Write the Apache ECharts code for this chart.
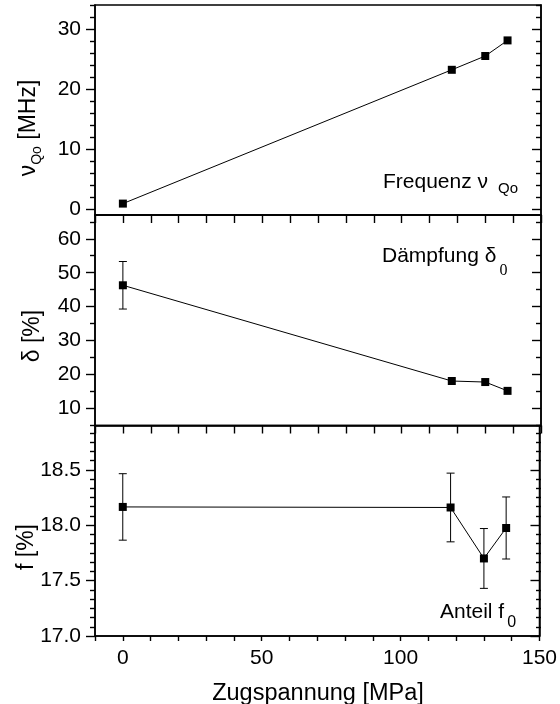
<!DOCTYPE html>
<html>
<head>
<meta charset="utf-8">
<script src="https://cdn.jsdelivr.net/npm/echarts@6/dist/echarts.min.js"></script>
<style>
  html, body { margin: 0; padding: 0; background: #fff; }
  #chart { width: 560px; height: 704px; }
</style>
</head>
<body>
<div id="chart"></div>
<script>
// Measured values versus tensile stress (MPa)
const stress = [0, 118, 130, 138];
const frequency = [0.9, 23.2, 25.5, 28.1];          // nu_Qo [MHz]
const damping = [46.3, 18.1, 17.8, 15.2];           // delta [%]
const dampingErr = [7.0, null, null, null];
const fraction = [18.165, 18.16, 17.70, 17.975];    // f [%]
const fractionErr = [0.30, 0.31, 0.27, 0.28];

// Axis tick labels
const xTickLabels = [0, 50, 100, 150];
const freqTicks = [0, 10, 20, 30];
const dampTicks = [10, 20, 30, 40, 50, 60];
const fracTicks = [17.0, 17.5, 18.0, 18.5];

const FONT = 'Liberation Sans, Arial, Helvetica, sans-serif';
const SERIF = 'Liberation Serif, Times New Roman, serif';
const BLACK = '#000';

// minor tick positions between the labelled ticks
function minorValues(start, end, step, majors) {
  const out = [];
  for (let k = 0; ; k++) {
    const v = +(start + k * step).toFixed(6);
    if (v > end + 1e-9) break;
    if (!majors.some(m => Math.abs(m - v) < 1e-6)) out.push(v);
  }
  return out;
}

const panels = [
  { top: 5,     height: 210,   min: -1, max: 34,   major: freqTicks, minor: minorValues(0, 34, 2, freqTicks), fmt: v => String(v) },
  { top: 215,   height: 210.5, min: 5,  max: 67,   major: dampTicks, minor: minorValues(5, 67, 5, dampTicks), fmt: v => String(v) },
  { top: 425.5, height: 210.5, min: 17, max: 18.9, major: fracTicks, minor: minorValues(17, 18.9, 1 / 12, fracTicks), fmt: v => v.toFixed(1) }
];

function tickLine() { return { color: BLACK, width: 1.4 }; }
function shownLine() { return { show: true, onZero: false, lineStyle: { color: BLACK, width: 1.5 } }; }
function hiddenLine() { return { show: false, onZero: false }; }
const grids = [], xAxes = [], yAxes = [];

// Each panel uses two grids over the same rectangle: the first carries the data,
// labels and long ticks, the second only the short ticks.
panels.forEach((p, i) => {
  grids.push({ left: 95, right: 19, top: p.top, height: p.height, show: true, borderColor: BLACK, borderWidth: 1.5 });
  grids.push({ left: 95, right: 19, top: p.top, height: p.height });

  const gMain = 2 * i, gMinor = 2 * i + 1;
  xAxes.push({
    type: 'value', gridIndex: gMain, min: -10, max: 150, interval: 10,
    axisLine: shownLine(),
    axisTick: { show: true, length: i < 2 ? 8 : 5, lineStyle: tickLine() },
    axisLabel: {
      show: i === 2, margin: 12, fontSize: 21, fontFamily: FONT, color: BLACK,
      formatter: v => (xTickLabels.indexOf(v) >= 0 ? String(v) : '')
    },
    splitLine: { show: false }
  });
  xAxes.push({ type: 'value', gridIndex: gMinor, min: -10, max: 150, interval: 10, show: false });

  yAxes.push({
    type: 'value', gridIndex: gMain, min: p.min, max: p.max, position: 'left', axisLine: shownLine(), splitLine: { show: false },
    axisTick: { show: true, length: 9, customValues: p.major, lineStyle: tickLine() },
    axisLabel: { show: true, margin: 14, fontSize: 21, fontFamily: FONT, color: BLACK, customValues: p.major, formatter: p.fmt }
  });
  yAxes.push({
    type: 'value', gridIndex: gMain, min: p.min, max: p.max, position: 'right', axisLine: shownLine(), splitLine: { show: false },
    axisTick: { show: true, inside: true, length: 9, customValues: p.major, lineStyle: tickLine() },
    axisLabel: { show: false }
  });
  yAxes.push({
    type: 'value', gridIndex: gMinor, min: p.min, max: p.max, position: 'left', axisLine: hiddenLine(), splitLine: { show: false },
    axisTick: { show: true, length: 5, customValues: p.minor, lineStyle: tickLine() },
    axisLabel: { show: false }
  });
  yAxes.push({
    type: 'value', gridIndex: gMinor, min: p.min, max: p.max, position: 'right', axisLine: hiddenLine(), splitLine: { show: false },
    axisTick: { show: true, inside: true, length: 5, customValues: p.minor, lineStyle: tickLine() },
    axisLabel: { show: false }
  });
});

function pairs(ys) { return stress.map((x, i) => [x, ys[i]]); }
function triples(ys, errs) {
  return stress.map((x, i) => [x, ys[i], errs[i]]).filter(d => d[2] != null);
}

function lineSeries(ys, i) {
  return {
    type: 'line', xAxisIndex: 2 * i, yAxisIndex: 4 * i, data: pairs(ys),
    symbol: 'rect', symbolSize: 8, z: 5,
    itemStyle: { color: BLACK },
    lineStyle: { color: BLACK, width: 1 },
    emphasis: { disabled: true }
  };
}

function errorBarItem(params, api) {
  const x = api.value(0), y = api.value(1), e = api.value(2);
  const hi = api.coord([x, y + e]);
  const lo = api.coord([x, y - e]);
  const w = 4;
  const style = { stroke: BLACK, lineWidth: 1 };
  return {
    type: 'group',
    children: [
      { type: 'line', shape: { x1: hi[0], y1: hi[1], x2: lo[0], y2: lo[1] }, style },
      { type: 'line', shape: { x1: hi[0] - w, y1: hi[1], x2: hi[0] + w, y2: hi[1] }, style },
      { type: 'line', shape: { x1: lo[0] - w, y1: lo[1], x2: lo[0] + w, y2: lo[1] }, style }
    ]
  };
}

function errorSeries(ys, errs, i) {
  return {
    type: 'custom', xAxisIndex: 2 * i, yAxisIndex: 4 * i, data: triples(ys, errs),
    encode: { x: 0, y: 1 }, renderItem: errorBarItem, z: 4
  };
}

// rich-text pieces: main text hangs from the line top, subscripts sit on the line bottom
const mainStyle = { fontSize: 21, lineHeight: 21, verticalAlign: 'top', fontFamily: FONT, color: BLACK };
const gap = w => ({ width: w, fontSize: 10, fontFamily: FONT, color: BLACK });

const graphics = [
  {
    type: 'text', left: 383, top: 172,
    style: {
      text: '{m|Frequenz ν}{g| }{s|Qo}', align: 'left', verticalAlign: 'top', fill: BLACK,
      rich: {
        m: mainStyle, g: gap(10),
        s: { fontSize: 15, lineHeight: 24, verticalAlign: 'bottom', fontFamily: FONT, color: BLACK }
      }
    }
  },
  {
    type: 'text', left: 382, top: 246,
    style: {
      text: '{m|Dämpfung δ}{g| }{s|0}', align: 'left', verticalAlign: 'top', fill: BLACK,
      rich: {
        m: mainStyle, g: gap(3),
        s: { fontSize: 16, lineHeight: 33, verticalAlign: 'bottom', fontFamily: SERIF, color: BLACK }
      }
    }
  },
  {
    type: 'text', left: 440, top: 602,
    style: {
      text: '{m|Anteil f}{g| }{s|0}', align: 'left', verticalAlign: 'top', fill: BLACK,
      rich: {
        m: mainStyle, g: gap(3),
        s: { fontSize: 16, lineHeight: 29, verticalAlign: 'bottom', fontFamily: FONT, color: BLACK }
      }
    }
  },
  {
    type: 'text', x: 31, y: 128, rotation: Math.PI / 2,
    style: {
      text: '{m|ν}{s|Qo}{m| [MHz]}', align: 'center', verticalAlign: 'middle', fill: BLACK,
      rich: {
        m: { fontSize: 23, lineHeight: 23, verticalAlign: 'top', fontFamily: FONT, color: BLACK },
        s: { fontSize: 14, lineHeight: 27, verticalAlign: 'bottom', fontFamily: FONT, color: BLACK }
      }
    }
  },
  {
    type: 'text', x: 33, y: 336, rotation: Math.PI / 2,
    style: { text: 'δ [%]', align: 'center', verticalAlign: 'middle', fontSize: 23, fontFamily: FONT, fill: BLACK }
  },
  {
    type: 'text', x: 27, y: 547, rotation: Math.PI / 2,
    style: { text: 'f [%]', align: 'center', verticalAlign: 'middle', fontSize: 23, fontFamily: FONT, fill: BLACK }
  },
  {
    type: 'text', x: 318, y: 694,
    style: { text: 'Zugspannung [MPa]', align: 'center', verticalAlign: 'middle', fontSize: 23.5, fontFamily: FONT, fill: BLACK }
  }
];

const chart = echarts.init(document.getElementById('chart'), null, { renderer: 'canvas' });
chart.setOption({
  backgroundColor: '#fff',
  animation: false,
  grid: grids,
  xAxis: xAxes,
  yAxis: yAxes,
  series: [
    lineSeries(frequency, 0),
    lineSeries(damping, 1),
    errorSeries(damping, dampingErr, 1),
    lineSeries(fraction, 2),
    errorSeries(fraction, fractionErr, 2)
  ],
  graphic: graphics
});
</script>
</body>
</html>
